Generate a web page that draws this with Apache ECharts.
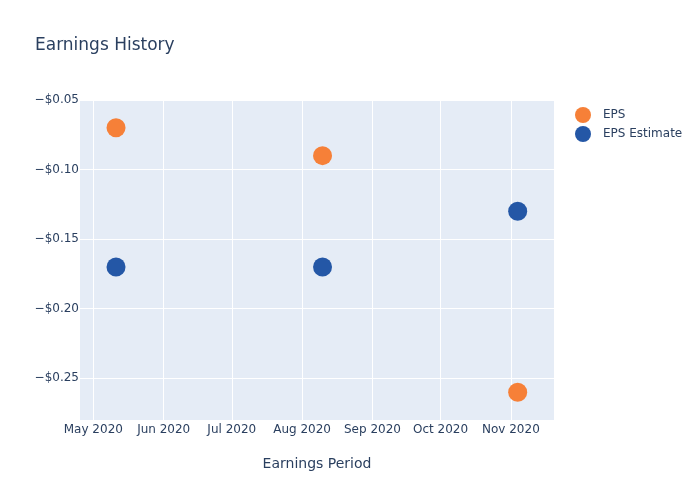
<!DOCTYPE html>
<html>
<head>
<meta charset="utf-8">
<script src="https://cdn.jsdelivr.net/npm/echarts@6/dist/echarts.min.js"></script>
<style>
  html, body { margin: 0; padding: 0; background: #fff; }
  #chart { width: 700px; height: 500px; }
</style>
</head>
<body>
<div id="chart"></div>
<script>
// earnings dates and values
const periods = ['2020-05-11', '2020-08-10', '2020-11-04'];
const eps = [-0.07, -0.09, -0.26];
const epsEstimate = [-0.17, -0.17, -0.13];
const xTicks = ['2020-05-01', '2020-06-01', '2020-07-01', '2020-08-01', '2020-09-01', '2020-10-01', '2020-11-01'];
const yTicks = [-0.25, -0.2, -0.15, -0.1, -0.05];
const monthNames = ['Jan', 'Feb', 'Mar', 'Apr', 'May', 'Jun', 'Jul', 'Aug', 'Sep', 'Oct', 'Nov', 'Dec'];

const font = 'DejaVu Sans';
const textColor = '#2a3f5f';

function toTime(s) {
    const p = s.split('-');
    return Date.UTC(+p[0], +p[1] - 1, +p[2]);
}

let chart = echarts.init(document.getElementById('chart'));
chart.setOption({
    animation: false,
    backgroundColor: '#fff',
    title: {
        text: 'Earnings History',
        left: 30,
        top: 32,
        textStyle: { fontFamily: font, fontSize: 17, fontWeight: 'normal', color: textColor }
    },
    legend: {
        orient: 'vertical',
        left: 570,
        top: 102,
        itemWidth: 16,
        itemHeight: 16,
        itemGap: 3,
        icon: 'circle',
        textStyle: { fontFamily: font, fontSize: 12, color: textColor, padding: [0, 0, 0, 7] },
        data: ['EPS', 'EPS Estimate']
    },
    grid: {
        left: 80,
        right: 146,
        top: 100,
        bottom: 80,
        show: true,
        backgroundColor: '#E5ECF6',
        borderWidth: 0
    },
    xAxis: {
        type: 'value',
        min: toTime('2020-04-25') + 3 * 3600 * 1000,
        max: toTime('2020-11-20'),
        name: 'Earnings Period',
        nameLocation: 'middle',
        nameGap: 37,
        nameTextStyle: { fontFamily: font, fontSize: 14, color: textColor },
        axisLine: { show: false },
        axisTick: { show: false, customValues: xTicks.map(toTime) },
        axisLabel: {
            customValues: xTicks.map(toTime),
            fontFamily: font,
            fontSize: 12,
            color: textColor,
            margin: 4,
            formatter: function (v) {
                const d = new Date(v);
                return monthNames[d.getUTCMonth()] + ' ' + d.getUTCFullYear();
            }
        },
        splitLine: { show: true, lineStyle: { color: '#fff', width: 1 } }
    },
    yAxis: {
        type: 'value',
        min: -0.28,
        max: -0.05,
        axisLine: { show: false },
        axisTick: { show: false, customValues: yTicks },
        axisLabel: {
            customValues: yTicks,
            fontFamily: font,
            fontSize: 12,
            color: textColor,
            margin: 1,
            formatter: function (v) {
                return (v < 0 ? '\u2212' : '') + '$' + Math.abs(v).toFixed(2);
            }
        },
        splitLine: { show: true, lineStyle: { color: '#fff', width: 1 } }
    },
    series: [
        {
            name: 'EPS',
            type: 'scatter',
            symbolSize: 19,
            itemStyle: { color: '#F68038', opacity: 1 },
            data: periods.map((p, i) => [toTime(p), eps[i]])
        },
        {
            name: 'EPS Estimate',
            type: 'scatter',
            symbolSize: 19,
            itemStyle: { color: '#2457A6', opacity: 1 },
            data: periods.map((p, i) => [toTime(p), epsEstimate[i]])
        }
    ]
});
</script>
</body>
</html>
